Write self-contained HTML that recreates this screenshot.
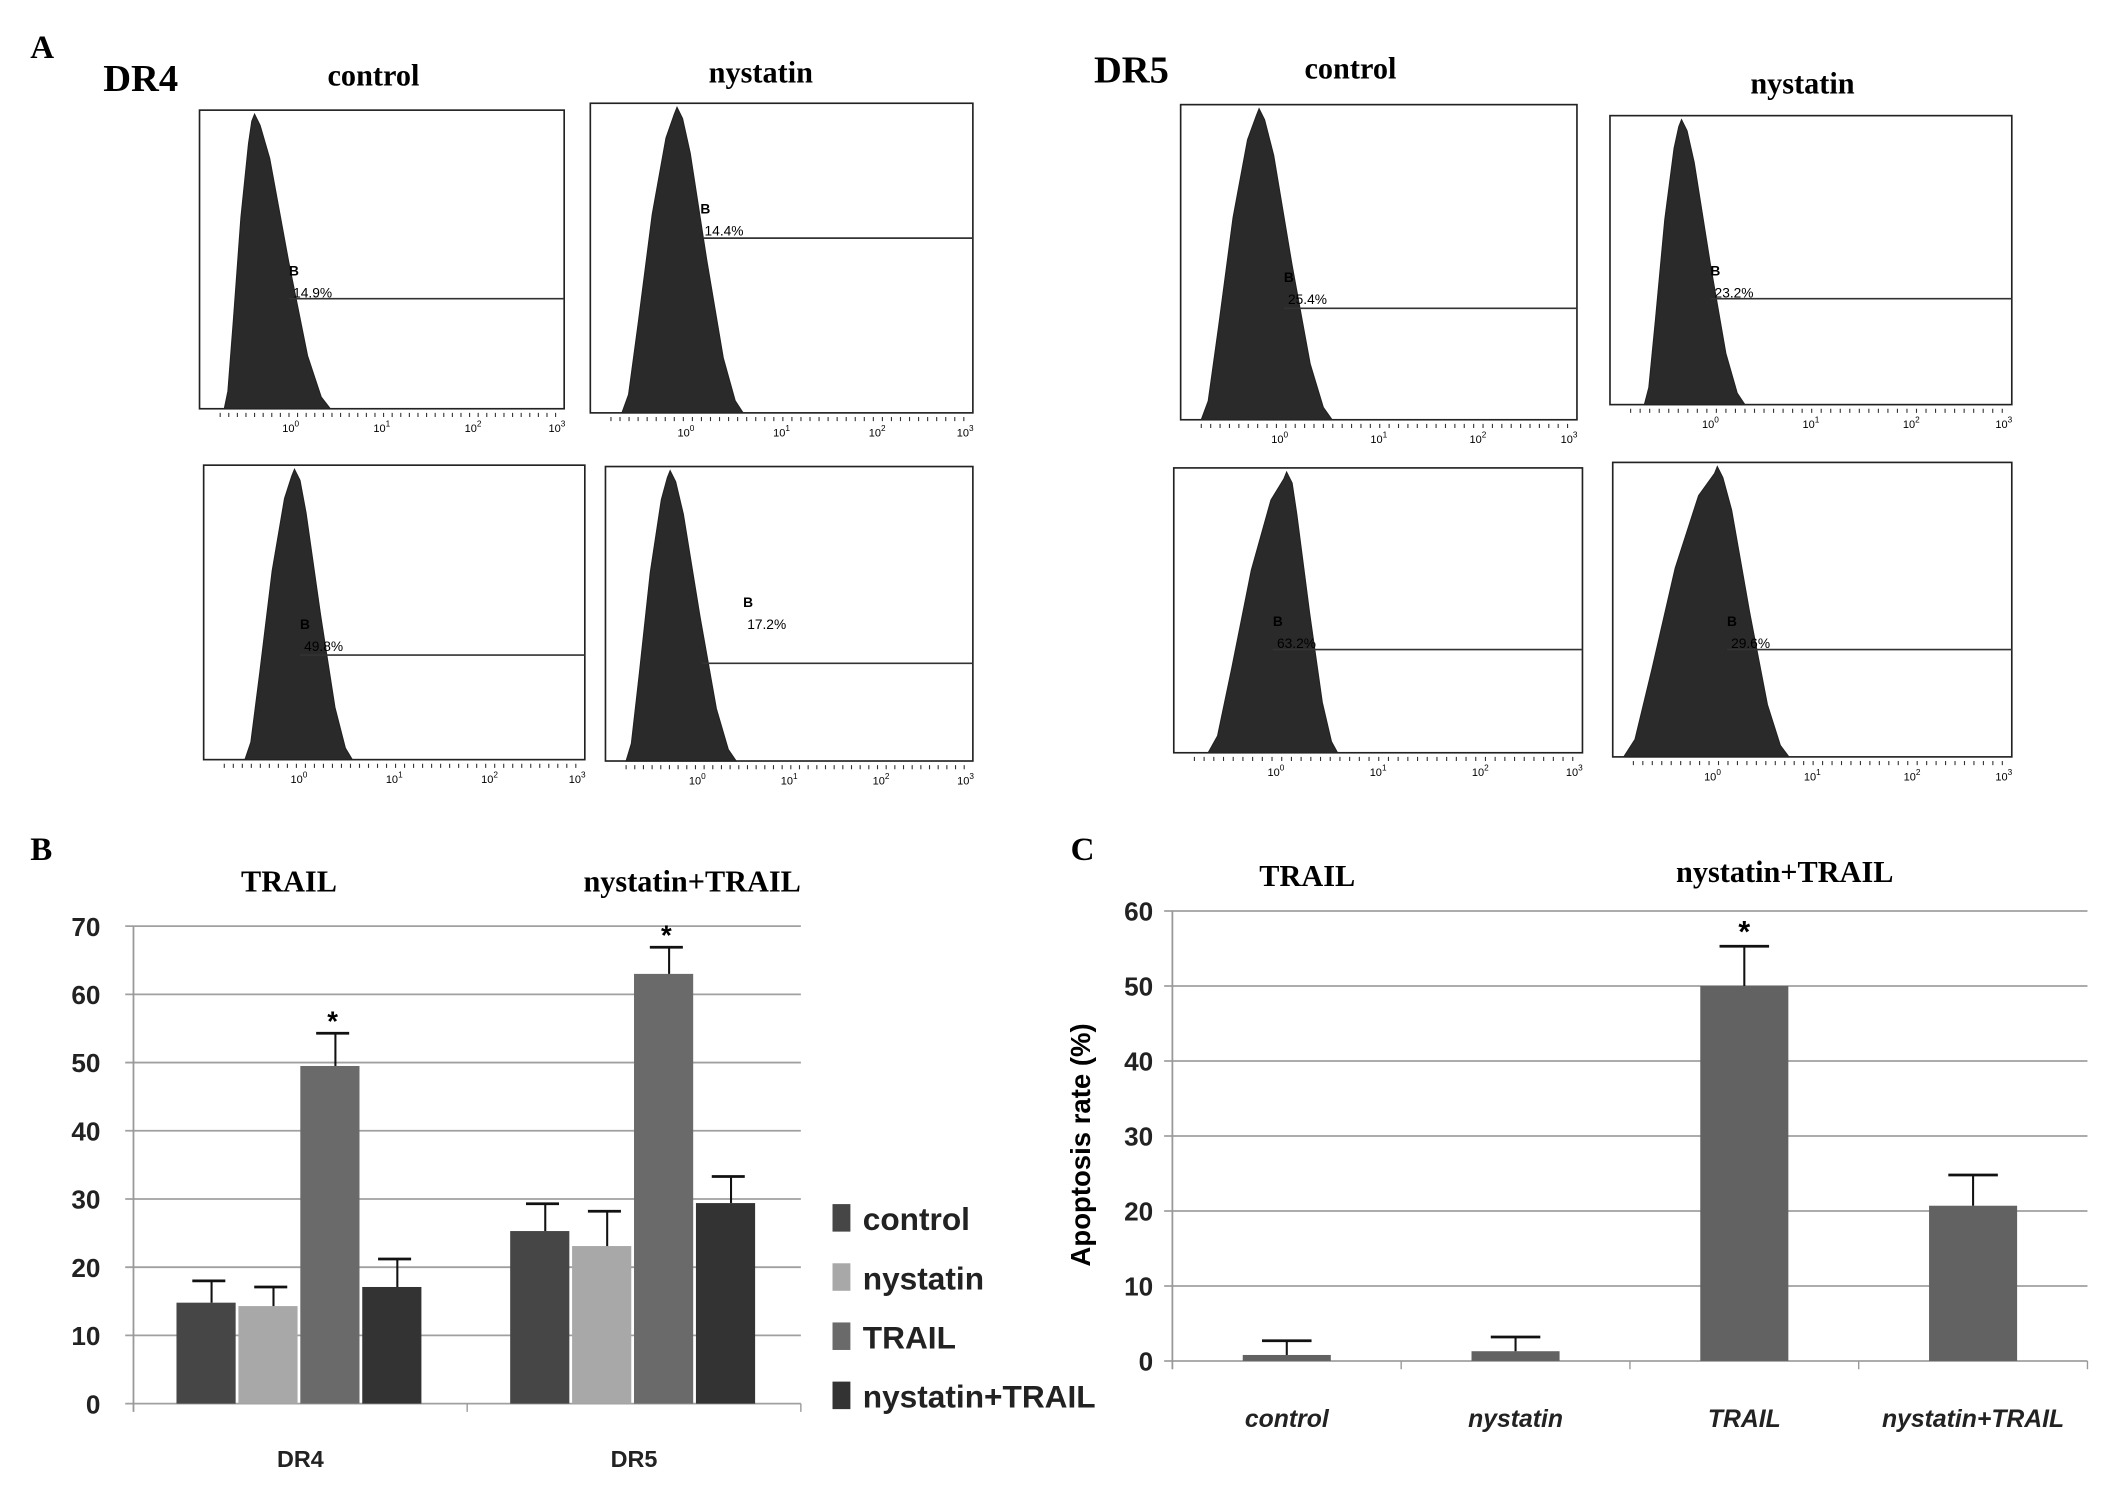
<!DOCTYPE html>
<html><head><meta charset="utf-8"><style>
html,body{margin:0;padding:0;background:#fff}
svg{display:block}
.serif{font-family:"Liberation Serif",serif;font-weight:bold}
.sans{font-family:"Liberation Sans",sans-serif;font-weight:bold}
</style></head><body>
<svg id="fig" width="2126" height="1489" viewBox="0 0 1545 1082" xmlns="http://www.w3.org/2000/svg">
<rect width="1545" height="1082" fill="#fff"/>
<g id="panelA"></g>
<g id="panelB"></g>
<g id="panelC"></g>
</svg>
<script>
// Panel B data
const bCategories = ["DR4", "DR5"];
const bSeries = ["control", "nystatin", "TRAIL", "nystatin+TRAIL"];
const bValues = [[14.8, 25.3], [14.3, 23.1], [49.5, 63.0], [17.1, 29.4]];
const bErrors = [[3.2, 4.0], [2.8, 5.1], [4.8, 3.9], [4.1, 3.9]];
const bTicks = [0, 10, 20, 30, 40, 50, 60, 70];
const bStars = [[false, false], [false, false], [true, true], [false, false]];
// Panel C data
const cCategories = ["control", "nystatin", "TRAIL", "nystatin+TRAIL"];
const cValues = [0.8, 1.3, 50.0, 20.7];
const cErrors = [1.9, 1.9, 5.3, 4.1];
const cTicks = [0, 10, 20, 30, 40, 50, 60];
const cStars = [false, false, true, false];
// Panel A gate percentages
const aPercents = ["14.9%", "14.4%", "49.8%", "17.2%", "25.4%", "23.2%", "63.2%", "29.6%"];

const NS = "http://www.w3.org/2000/svg";
function mk(parent, tag, attrs, text) {
  const e = document.createElementNS(NS, tag);
  for (const k in attrs) e.setAttribute(k, attrs[k]);
  if (text !== undefined) e.textContent = text;
  parent.appendChild(e);
  return e;
}

// ---------- Panel A ----------
const A = document.getElementById('panelA');
let t;
t = mk(A, 'text', {x: 22, y: 42, class: 'serif', 'font-size': 24}, 'A');
 
const heads = [["DR4", 75, 66, 28], ["control", 238, 62, 22], ["nystatin", 515, 60, 22], ["DR5", 795, 60, 28], ["control", 948, 57, 22], ["nystatin", 1272, 68, 22]];
heads.forEach(h => {
  const e = mk(A, 'text', {x: h[1], y: h[2], class: 'serif', 'font-size': h[3]}, h[0]);
  
  
});
const boxes = [
  [145, 80, 410, 297, 185, 163, 240, 217, 210, 210, 200],
  [429, 75, 707, 300, 492, 452, 540, 173, 511, 509, 155],
  [148, 338, 425, 552, 214, 178, 256, 476, 218, 218, 457],
  [440, 339, 707, 553, 487, 455, 535, 482, 510, 540, 441],
  [858, 76, 1146, 305, 915, 873, 968, 224, 933, 933, 205],
  [1170, 84, 1462, 294, 1222, 1195, 1268, 217, 1243, 1243, 200],
  [853, 340, 1150, 547, 935, 878, 972, 472, 925, 925, 455],
  [1172, 336, 1462, 550, 1248, 1180, 1300, 472, 1255, 1255, 455]
];
boxes.forEach((b, i) => {
  const g = mk(A, 'g', {});
  
  
  const [x0, y0, x1, y1, px, bl, br, gy, gx, lx, ly] = b;
  mk(g, 'rect', {x: x0, y: y0, width: x1 - x0, height: y1 - y0, fill: 'none', stroke: '#222', 'stroke-width': 1.2});
  const top = y0 + 3, h = y1 - top;
  const d = `M${bl},${y1} L${bl + (px - bl) * 0.12},${y1 - h * 0.06} L${bl + (px - bl) * 0.3},${y1 - h * 0.3} L${bl + (px - bl) * 0.55},${y1 - h * 0.65} L${bl + (px - bl) * 0.8},${y1 - h * 0.9} L${px - 2},${top + 5} L${px},${top} L${px + 4},${top + 8} L${px + (br - px) * 0.2},${y1 - h * 0.85} L${px + (br - px) * 0.45},${y1 - h * 0.5} L${px + (br - px) * 0.7},${y1 - h * 0.18} L${px + (br - px) * 0.88},${y1 - h * 0.04} L${br},${y1} Z`;
  mk(g, 'path', {d: d, fill: '#2a2a2a', stroke: '#222', 'stroke-width': 0.8});
  mk(g, 'line', {x1: gx, y1: gy, x2: x1, y2: gy, stroke: '#333', 'stroke-width': 1.2});
  mk(g, 'text', {x: lx, y: ly, 'font-family': 'Liberation Sans, sans-serif', 'font-size': 10, 'font-weight': 'bold'}, 'B');
  mk(g, 'text', {x: lx + 3, y: ly + 16, 'font-family': 'Liberation Sans, sans-serif', 'font-size': 10}, aPercents[i]);
  const w = x1 - x0;
  for (let k = 0; k < 40; k++) {
    const tx = x0 + 15 + k * (w - 15) / 40;
    mk(g, 'line', {x1: tx, y1: y1 + 3, x2: tx, y2: y1 + 6, stroke: '#333', 'stroke-width': 0.8});
  }
  ['0', '1', '2', '3'].forEach((p, j) => {
    const tx = x0 + w * [0.25, 0.5, 0.75, 0.98][j];
    const tt = mk(g, 'text', {x: tx, y: y1 + 17, 'font-family': 'Liberation Sans, sans-serif', 'font-size': 8, 'text-anchor': 'middle'});
    tt.textContent = '10';
    mk(tt, 'tspan', {dy: -4, 'font-size': 6}, p);
  });
});

// ---------- Panel B ----------
const B = document.getElementById('panelB');
const bX0 = 97, bX1 = 582, bY0 = 1020, bYtop = 673, bMax = 70;
const by = v => bY0 - (v / bMax) * (bY0 - bYtop);
const bColors = ['#464646', '#a8a8a8', '#6a6a6a', '#333333'];
t = mk(B, 'text', {x: 22, y: 625, class: 'serif', 'font-size': 24}, 'B');
 
t = mk(B, 'text', {x: 210, y: 648, class: 'serif', 'font-size': 22, 'text-anchor': 'middle'}, 'TRAIL');
 
t = mk(B, 'text', {x: 503, y: 648, class: 'serif', 'font-size': 22, 'text-anchor': 'middle'}, 'nystatin+TRAIL');
 
bTicks.forEach(v => {
  const gl = mk(B, 'line', {x1: bX0 - 6, y1: by(v), x2: bX1, y2: by(v), stroke: '#a0a0a0', 'stroke-width': 1.3});
   
  const tl = mk(B, 'text', {x: 73, y: by(v) + 7, class: 'sans', 'font-size': 19, 'text-anchor': 'end', fill: '#222'}, String(v));
   
});
mk(B, 'line', {x1: bX0, y1: bYtop, x2: bX0, y2: bY0 + 6, stroke: '#999', 'stroke-width': 1.3});
const bCatW = (bX1 - bX0) / bCategories.length, bBarW = 43;
bCategories.forEach((c, ci) => {
  const cx = bX0 + bCatW * (ci + 0.5);
  mk(B, 'line', {x1: bX0 + bCatW * (ci + 1), y1: bY0, x2: bX0 + bCatW * (ci + 1), y2: bY0 + 6, stroke: '#999'});
  const cl = mk(B, 'text', {x: cx, y: 1066, class: 'sans', 'font-size': 17, 'text-anchor': 'middle', fill: '#222'}, c);
   
  bSeries.forEach((s, si) => {
    const x = cx - 2 * (bBarW + 2) + si * (bBarW + 2);
    const v = bValues[si][ci];
    const r = mk(B, 'rect', {x: x, y: by(v), width: bBarW, height: bY0 - by(v), fill: bColors[si]});
    
    
    const ex = x + bBarW / 2 + 4, et = by(v + bErrors[si][ci]);
    mk(B, 'line', {x1: ex, y1: by(v), x2: ex, y2: et, stroke: '#111', 'stroke-width': 1.5});
    mk(B, 'line', {x1: ex - 14, y1: et, x2: ex + 10, y2: et, stroke: '#111', 'stroke-width': 2});
    if (bStars[si][ci]) {
      const st = mk(B, 'text', {x: ex - 2, y: et - 2, class: 'sans', 'font-size': 20, 'text-anchor': 'middle'}, '*');
       
    }
  });
});
bSeries.forEach((s, si) => {
  const ly = 885 + si * 43;
  const sq = mk(B, 'rect', {x: 605, y: ly - 10, width: 13, height: 20, fill: bColors[si]});
   
  const lt = mk(B, 'text', {x: 627, y: ly + 9, class: 'sans', 'font-size': 23, fill: '#222'}, s);
   
});

// ---------- Panel C ----------
const C = document.getElementById('panelC');
const cX0 = 852, cX1 = 1517, cY0 = 989, cYtop = 662, cMax = 60;
const cy = v => cY0 - (v / cMax) * (cY0 - cYtop);
t = mk(C, 'text', {x: 778, y: 625, class: 'serif', 'font-size': 24}, 'C');
 
t = mk(C, 'text', {x: 950, y: 644, class: 'serif', 'font-size': 22, 'text-anchor': 'middle'}, 'TRAIL');
 
t = mk(C, 'text', {x: 1297, y: 641, class: 'serif', 'font-size': 22, 'text-anchor': 'middle'}, 'nystatin+TRAIL');
 
t = mk(C, 'text', {x: 0, y: 0, class: 'sans', 'font-size': 20, 'text-anchor': 'middle', transform: 'translate(792,832) rotate(-90)'}, 'Apoptosis rate (%)');
 
cTicks.forEach(v => {
  const gl = mk(C, 'line', {x1: cX0 - 6, y1: cy(v), x2: cX1, y2: cy(v), stroke: '#a0a0a0', 'stroke-width': 1.3});
   
  const tl = mk(C, 'text', {x: 838, y: cy(v) + 7, class: 'sans', 'font-size': 19, 'text-anchor': 'end', fill: '#222'}, String(v));
   
});
mk(C, 'line', {x1: cX0, y1: cYtop, x2: cX0, y2: cY0 + 6, stroke: '#999', 'stroke-width': 1.3});
const cCatW = (cX1 - cX0) / cCategories.length, cBarW = 64;
cCategories.forEach((c, i) => {
  const cx = cX0 + cCatW * (i + 0.5);
  mk(C, 'line', {x1: cX0 + cCatW * (i + 1), y1: cY0, x2: cX0 + cCatW * (i + 1), y2: cY0 + 6, stroke: '#999'});
  const v = cValues[i];
  const r = mk(C, 'rect', {x: cx - cBarW / 2, y: cy(v), width: cBarW, height: cY0 - cy(v), fill: '#626262'});
  
  
  const et = cy(v + cErrors[i]);
  mk(C, 'line', {x1: cx, y1: cy(v), x2: cx, y2: et, stroke: '#111', 'stroke-width': 1.5});
  mk(C, 'line', {x1: cx - 18, y1: et, x2: cx + 18, y2: et, stroke: '#111', 'stroke-width': 2});
  if (cStars[i]) {
    const st = mk(C, 'text', {x: cx, y: et - 3, class: 'sans', 'font-size': 22, 'text-anchor': 'middle'}, '*');
     
  }
  const cl = mk(C, 'text', {x: cx, y: 1037, class: 'sans', 'font-size': 18, 'font-style': 'italic', 'text-anchor': 'middle', fill: '#222'}, c);
   
});
</script>
</body></html>
